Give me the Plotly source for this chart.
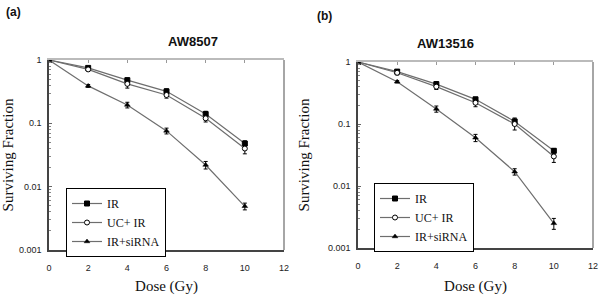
import plotly.graph_objects as go

dose = [0, 2, 4, 6, 8, 10]
series_names = ["IR", "UC+ IR", "IR+siRNA"]

# Panel (a) AW8507
a_ir = [1.0, 0.75, 0.48, 0.32, 0.14, 0.048]
a_ir_err = [0.02, 0.04, 0.04, 0.03, 0.015, 0.005]
a_uc = [1.0, 0.71, 0.42, 0.28, 0.12, 0.040]
a_uc_err = [0.02, 0.04, 0.06, 0.03, 0.015, 0.007]
a_si = [1.0, 0.39, 0.195, 0.076, 0.022, 0.0049]
a_si_err = [0.02, 0.02, 0.02, 0.008, 0.003, 0.0006]

# Panel (b) AW13516
b_ir = [1.0, 0.70, 0.44, 0.25, 0.11, 0.037]
b_ir_err = [0.02, 0.05, 0.04, 0.02, 0.015, 0.003]
b_uc = [1.0, 0.67, 0.40, 0.22, 0.10, 0.030]
b_uc_err = [0.02, 0.05, 0.04, 0.03, 0.02, 0.006]
b_si = [1.0, 0.48, 0.175, 0.060, 0.017, 0.0025]
b_si_err = [0.02, 0.02, 0.02, 0.008, 0.002, 0.0005]

titles = ["AW8507", "AW13516"]
panel_labels = ["(a)", "(b)"]
x_ticks = [0, 2, 4, 6, 8, 10, 12]
y_ticks = [0.001, 0.01, 0.1, 1]
y_ticktext = ["0.001", "0.01", "0.1", "1"]

markers = [
    dict(symbol="square", size=5, color="black", line=dict(color="black", width=1)),
    dict(symbol="circle", size=5, color="white", line=dict(color="black", width=1)),
    dict(symbol="triangle-up", size=5, color="black", line=dict(color="black", width=0.5)),
]

fig = go.Figure()

panels = [
    ([a_ir, a_uc, a_si], [a_ir_err, a_uc_err, a_si_err], "x", "y", "legend"),
    ([b_ir, b_uc, b_si], [b_ir_err, b_uc_err, b_si_err], "x2", "y2", "legend2"),
]

for vals, errs, xa, ya, lg in panels:
    for name, v, e, m in zip(series_names, vals, errs, markers):
        fig.add_trace(go.Scatter(
            x=dose, y=v, name=name, mode="lines+markers",
            line=dict(color="#6e6e6e", width=1.2),
            marker=m,
            error_y=dict(type="data", array=e, color="black", thickness=1, width=2),
            xaxis=xa, yaxis=ya, legend=lg,
        ))

# invisible traces for top tick axes
for xa, ya in [("x3", "y"), ("x4", "y2")]:
    fig.add_trace(go.Scatter(x=[0], y=[1], mode="markers", marker=dict(opacity=0),
                             showlegend=False, hoverinfo="skip", xaxis=xa, yaxis=ya))

serif = "Liberation Serif, Times New Roman, serif"
sans = "Liberation Sans, Arial, sans-serif"

def xaxis_cfg(dom, anchor):
    return dict(domain=dom, anchor=anchor, range=[0, 12], tickvals=x_ticks, automargin=False,
                showgrid=False, zeroline=False, showline=True, linecolor="#444",
                linewidth=1.5, ticks="", ticklabelstandoff=8,
                tickfont=dict(family=sans, size=9, color="#222"),
                title=dict(text="Dose (Gy)", font=dict(family=serif, size=15, color="#111")))

def yaxis_cfg(dom, anchor):
    minor_vals = [m * 10 ** p for p in (-3, -2, -1) for m in range(2, 10)]
    return dict(domain=dom, anchor=anchor, type="log", range=[-3, 0], automargin=False,
                tickvals=y_ticks, ticktext=y_ticktext, showgrid=False, zeroline=False,
                showline=True, linecolor="#444", linewidth=1.5, ticks="inside",
                ticklen=3, tickcolor="#666", ticklabelstandoff=4,
                minor=dict(tickvals=minor_vals, ticks="inside", ticklen=2, tickcolor="#888"),
                tickfont=dict(family=sans, size=9, color="#222"),
                title=dict(text="Surviving Fraction", font=dict(family=serif, size=15, color="#111")))

def top_cfg(overlay, anchor, dom):
    return dict(overlaying=overlay, anchor=anchor, domain=dom, side="top", range=[0, 12],
                tickvals=[2, 4, 6, 8, 10], automargin=False,
                showticklabels=False, ticks="inside", ticklen=3, tickcolor="#999",
                showline=True, linecolor="#bbb", linewidth=1.5, showgrid=False, zeroline=False)

xa_dom = [49 / 600, 284 / 600]
xb_dom = [358 / 600, 593 / 600]
ya_dom = [1 - 250 / 295, 1 - 60 / 295]
yb_dom = [1 - 248 / 295, 1 - 62 / 295]

legend_cfg = dict(bgcolor="white", bordercolor="black", borderwidth=1,
                  font=dict(family=serif, size=12, color="#111"),
                  xanchor="left", yanchor="top", itemwidth=30)

fig.update_layout(
    width=600, height=295, margin=dict(l=0, r=0, t=0, b=0, pad=0, autoexpand=False),
    paper_bgcolor="white", plot_bgcolor="white",
    xaxis=xaxis_cfg(xa_dom, "y"), yaxis=yaxis_cfg(ya_dom, "x"),
    xaxis2=xaxis_cfg(xb_dom, "y2"), yaxis2=yaxis_cfg(yb_dom, "x2"),
    xaxis3=top_cfg("x", "y", xa_dom), xaxis4=top_cfg("x2", "y2", xb_dom),
    legend=dict(legend_cfg, x=66 / 600, y=1 - 188 / 295),
    legend2=dict(legend_cfg, x=374 / 600, y=1 - 183 / 295),
    showlegend=True,
)

# right borders
for xr, yr in [("x domain", "y domain"), ("x2 domain", "y2 domain")]:
    fig.add_shape(type="line", xref=xr, yref=yr, x0=1, x1=1, y0=0, y1=1,
                  line=dict(color="#888", width=1.5))

# titles and panel labels
fig.add_annotation(text="<b>AW8507</b>", x=sum(xa_dom) / 2, y=1 - 42 / 295, xref="paper", yref="paper",
                   yanchor="middle", showarrow=False, font=dict(family=sans, size=13, color="#111"))
fig.add_annotation(text="<b>AW13516</b>", x=sum(xb_dom) / 2, y=1 - 44 / 295, xref="paper", yref="paper",
                   yanchor="middle", showarrow=False, font=dict(family=sans, size=13, color="#111"))
fig.add_annotation(text="<b>(a)</b>", x=4 / 600, y=1 - 12 / 295, xref="paper", yref="paper",
                   xanchor="left", yanchor="middle", showarrow=False, font=dict(family=sans, size=12, color="#111"))
fig.add_annotation(text="<b>(b)</b>", x=315 / 600, y=1 - 16 / 295, xref="paper", yref="paper",
                   xanchor="left", yanchor="middle", showarrow=False, font=dict(family=sans, size=12, color="#111"))

fig.write_html("out.html", config={"displayModeBar": False},
               post_script="document.body.style.margin='0';document.body.style.overflow='hidden';")
